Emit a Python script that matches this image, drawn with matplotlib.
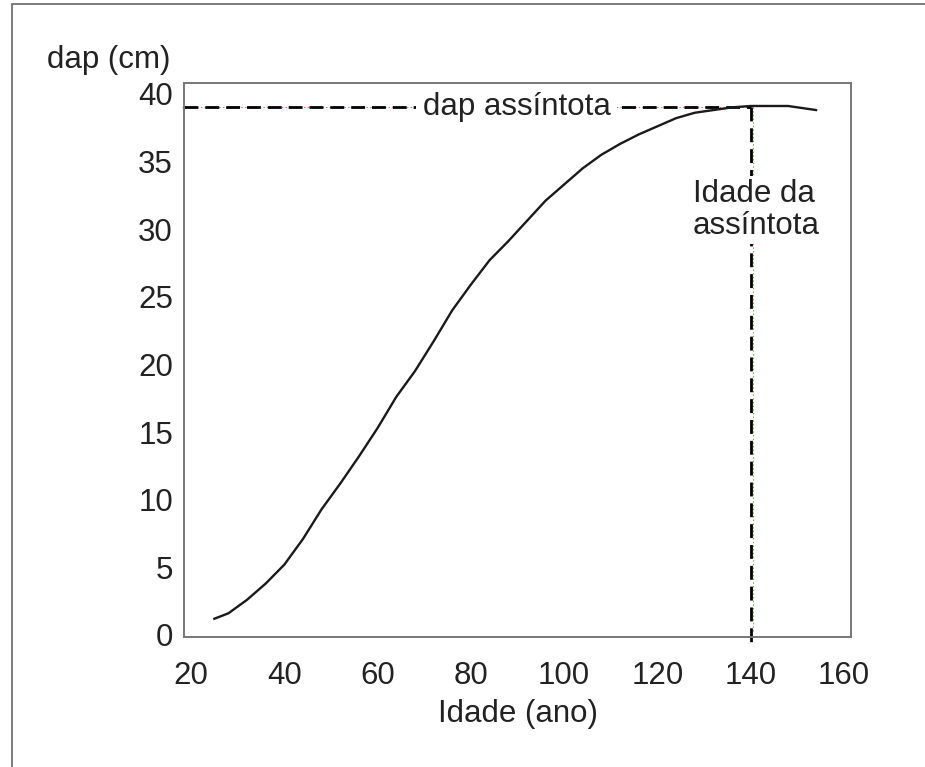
import matplotlib.pyplot as plt
from matplotlib.patches import Rectangle

plt.rcParams['font.family'] = ['Liberation Sans', 'DejaVu Sans']
plt.rcParams['lines.scale_dashes'] = False

# idade (ano) e dap (cm)
idade = [25, 28, 32, 36, 40, 44, 48, 52, 56, 60, 64, 68, 72, 76, 80, 84, 88,
         92, 96, 100, 104, 108, 112, 116, 120, 124, 128, 132, 136, 140, 148, 154]
dap = [1.2, 1.6, 2.6, 3.8, 5.2, 7.1, 9.3, 11.2, 13.2, 15.3, 17.6, 19.5, 21.7,
       24.0, 25.9, 27.7, 29.1, 30.6, 32.1, 33.3, 34.5, 35.5, 36.3, 37.0, 37.6,
       38.2, 38.6, 38.8, 39.0, 39.1, 39.1, 38.8]

dap_assintota = 39.0
idade_assintota = 140
xticks = [20, 40, 60, 80, 100, 120, 140, 160]
yticks = [0, 5, 10, 15, 20, 25, 30, 35, 40]

fs = 22.5

fig = plt.figure(figsize=(9.25, 7.67), dpi=100)
ax = fig.add_axes([0.199, 0.1695, 0.721, 0.7223])

# moldura da figura (cortada a direita e em baixo)
fig.patches.append(Rectangle((12 / 925, -0.05), 1.1, 1 - 4 / 767 + 0.05,
                             transform=fig.transFigure, fill=False,
                             edgecolor='#666666', linewidth=1.2))

ax.plot(idade, dap, color='#1a1a1a', linewidth=1.7, zorder=3)

# linhas tracejadas da assintota
ax.plot([18.5, idade_assintota], [dap_assintota, dap_assintota], color='black',
        linewidth=2.0, dashes=(10, 5), zorder=2)
ax.plot([idade_assintota, idade_assintota], [dap_assintota, -0.5], color='black',
        linewidth=2.0, dashes=(10, 5), zorder=2, clip_on=False)
# linhas pontilhadas vermelhas finas (como no original)
ax.plot([18.0, idade_assintota], [dap_assintota + 0.05, dap_assintota + 0.05],
        color='#ff6060', linewidth=0.8, linestyle=':', zorder=1, clip_on=False)
ax.plot([idade_assintota + 0.4, idade_assintota + 0.4], [dap_assintota, 0.2],
        color='#ff6060', linewidth=0.8, linestyle=':', zorder=1)

ax.text(89.8, dap_assintota, 'dap assíntota', fontsize=fs, ha='center',
        va='center', color='#222222', zorder=4,
        bbox=dict(facecolor='white', edgecolor='none', pad=5))
ax.text(127.6, 31.4, 'Idade da\nassíntota', fontsize=fs, ha='left',
        va='center', color='#222222', linespacing=1.1, zorder=4,
        bbox=dict(facecolor='white', edgecolor='none', pad=2))

ax.set_xlim(18.5, 161.5)
ax.set_ylim(-0.15, 40.8)
ax.set_xticks(xticks)
ax.set_yticks(yticks)
ax.tick_params(length=0, labelsize=fs, colors='#222222')
ax.tick_params(axis='x', pad=17)
ax.tick_params(axis='y', pad=8)

for s in ax.spines.values():
    s.set_color('#777777')
    s.set_linewidth(1.4)

ax.set_xlabel('Idade (ano)', fontsize=fs, color='#222222', labelpad=6)
fig.text(47 / 925, 1 - 60 / 767, 'dap (cm)', fontsize=fs, ha='left',
         va='center', color='#222222')

fig.savefig('out.png', dpi=100)
